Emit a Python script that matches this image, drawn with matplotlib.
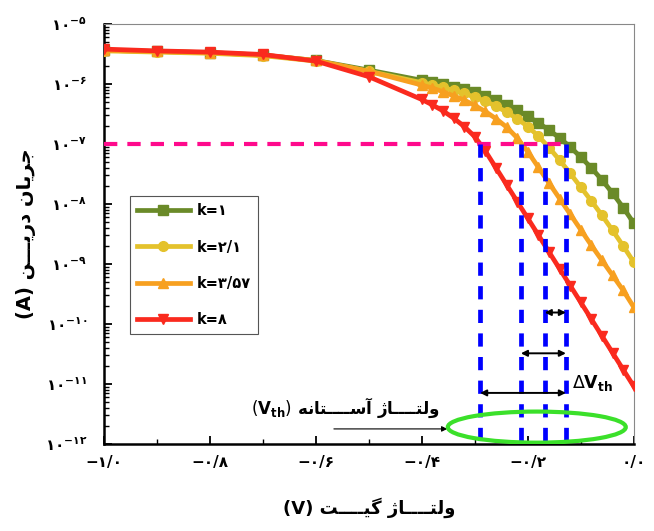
import matplotlib
matplotlib.use('Agg')
import matplotlib.pyplot as plt
from matplotlib.patches import Ellipse
from matplotlib.ticker import FixedLocator, FuncFormatter, LogLocator, MultipleLocator
import numpy as np

plt.rcParams['font.family'] = ['DejaVu Sans']
plt.rcParams['mathtext.fontset'] = 'dejavusans'

#-----------------------------------------------------------------------------
# Data (log10 of drain current)

vg = [-1.0, -0.9, -0.8, -0.7, -0.6, -0.5, -0.4, -0.38, -0.36, -0.34, -0.32, -0.30,
      -0.28, -0.26, -0.24, -0.22, -0.20, -0.18, -0.16, -0.14, -0.12, -0.10,
      -0.08, -0.06, -0.04, -0.02, 0.0]

log_k1 = [-5.44, -5.46, -5.48, -5.52, -5.61, -5.77, -5.94, -5.97, -6.01, -6.05, -6.09, -6.14,
          -6.20, -6.27, -6.35, -6.44, -6.54, -6.65, -6.77, -6.90, -7.05, -7.22,
          -7.40, -7.60, -7.82, -8.06, -8.32]
log_k21 = [-5.45, -5.47, -5.49, -5.53, -5.62, -5.79, -5.98, -6.02, -6.06, -6.11, -6.16, -6.22,
           -6.29, -6.37, -6.47, -6.58, -6.71, -6.87, -7.06, -7.27, -7.49, -7.72,
           -7.95, -8.19, -8.44, -8.70, -8.97]
log_k357 = [-5.44, -5.46, -5.48, -5.52, -5.61, -5.79, -6.02, -6.07, -6.13, -6.20, -6.27, -6.36,
            -6.46, -6.58, -6.72, -6.90, -7.13, -7.39, -7.65, -7.91, -8.17, -8.43,
            -8.69, -8.94, -9.19, -9.44, -9.72]
log_k8 = [-5.42, -5.45, -5.47, -5.51, -5.62, -5.88, -6.26, -6.35, -6.45, -6.57, -6.71, -6.88,
          -7.12, -7.40, -7.68, -7.96, -8.24, -8.52, -8.80, -9.08, -9.36, -9.64,
          -9.92, -10.20, -10.48, -10.76, -11.04]

labels = ['k=۱', 'k=۲/۱', 'k=۳/۵۷', 'k=۸']
colors = ['#6A8A28', '#E4C22C', '#F7A020', '#FA2A1E']
markers = ['s', 'o', '^', 'v']

i_th = 1e-7
vth = [-0.128, -0.168, -0.213, -0.29]   # k=1, 2.1, 3.57, 8

#-----------------------------------------------------------------------------
# Persian text helpers (shaping + visual order)

FORMS = {
    'ا': ('\uFE8D', '\uFE8E', None, None),
    'آ': ('\uFE81', '\uFE82', None, None),
    'ت': ('\uFE95', '\uFE96', '\uFE97', '\uFE98'),
    'ج': ('\uFE9D', '\uFE9E', '\uFE9F', '\uFEA0'),
    'د': ('\uFEA9', '\uFEAA', None, None),
    'ر': ('\uFEAD', '\uFEAE', None, None),
    'ژ': ('\uFB8A', '\uFB8B', None, None),
    'س': ('\uFEB1', '\uFEB2', '\uFEB3', '\uFEB4'),
    'ل': ('\uFEDD', '\uFEDE', '\uFEDF', '\uFEE0'),
    'ن': ('\uFEE5', '\uFEE6', '\uFEE7', '\uFEE8'),
    'ه': ('\uFEE9', '\uFEEA', '\uFEEB', '\uFEEC'),
    'و': ('\uFEED', '\uFEEE', None, None),
    'ی': ('\uFBFC', '\uFBFD', '\uFBFE', '\uFBFF'),
    'گ': ('\uFB92', '\uFB93', '\uFB94', '\uFB95'),
}
TATWEEL = 'ـ'


def joins_next(c):
    return c == TATWEEL or (c in FORMS and FORMS[c][2] is not None)


def joins_prev(c):
    return c == TATWEEL or c in FORMS


def fa(s):
    out = []
    for i, c in enumerate(s):
        if c not in FORMS:
            out.append(c)
            continue
        p = s[i - 1] if i > 0 else ''
        n = s[i + 1] if i + 1 < len(s) else ''
        a = p != '' and joins_next(p)
        b = joins_next(c) and n != '' and joins_prev(n)
        isol, fina, init, medi = FORMS[c]
        out.append(medi if a and b else fina if a else init if b else isol)
    return ''.join(reversed(out))


DIG = str.maketrans('0123456789', '۰۱۲۳۴۵۶۷۸۹')

#-----------------------------------------------------------------------------
# Plot

fig = plt.figure(figsize=(6.54, 5.31), dpi=100)
ax = fig.add_axes([0.159, 0.164, 0.810, 0.791])

for ly, lab, c, m in zip([log_k1, log_k21, log_k357, log_k8], labels, colors, markers):
    ax.plot(vg, 10 ** np.array(ly), color=c, marker=m, markersize=7, lw=3.4,
            markeredgecolor=c, label=lab, zorder=3)

# threshold current line
ax.plot([-1.0, max(vth)], [i_th, i_th], color='#FF0A8C', lw=3, dashes=(3.2, 2.4), zorder=4)

# threshold voltage lines
for v in vth:
    ax.plot([v, v], [i_th, 1e-12], color='#0000FF', lw=3.4, dashes=(2.8, 2.2), zorder=4)

# delta Vth arrows
arr = dict(arrowstyle='<|-|>', color='black', lw=1.4, mutation_scale=9, shrinkA=0, shrinkB=0)
ax.annotate('', xy=(vth[1], 10 ** -9.81), xytext=(vth[0], 10 ** -9.81), arrowprops=arr, zorder=5)
ax.annotate('', xy=(vth[2], 10 ** -10.49), xytext=(vth[0], 10 ** -10.49), arrowprops=arr, zorder=5)
ax.annotate('', xy=(vth[3], 10 ** -11.15), xytext=(vth[0], 10 ** -11.15), arrowprops=arr, zorder=5)
ax.text(-0.117, 10 ** -10.98, r'$\Delta\mathbf{V_{th}}$', fontsize=12.5, ha='left', va='center')

# ellipse + label
ax.add_patch(Ellipse((0.817, 0.040), 0.336, 0.074, transform=ax.transAxes, fill=False,
                     ec='#3BE02A', lw=3, zorder=6))
ax.annotate('', xy=(-0.352, 10 ** -11.75), xytext=(-0.566, 10 ** -11.75),
            arrowprops=dict(arrowstyle='-|>', color='black', lw=0.8, mutation_scale=8,
                            shrinkA=0, shrinkB=0))
ax.text(-0.545, 10 ** -11.40, r'$(\mathbf{V_{th}})$ ' + fa('ولتــــاژ آســــتانه'),
        fontsize=12, fontweight='bold', ha='center', va='center')

ax.set_yscale('log')
ax.set_xlim(-1.0, 0.0)
ax.set_ylim(1e-12, 1e-5)

ax.xaxis.set_major_locator(MultipleLocator(0.2))
ax.xaxis.set_minor_locator(MultipleLocator(0.1))


def xfmt(v, pos):
    s = ('%.1f' % abs(v)).translate(DIG).replace('.', '/')
    return ('−' + s) if v < -1e-9 else s


def yfmt(v, pos):
    e = int(round(np.log10(v)))
    return r'$\mathbf{۱۰^{−%s}}$' % str(-e).translate(DIG)


ax.xaxis.set_major_formatter(FuncFormatter(xfmt))
ax.yaxis.set_major_locator(FixedLocator([10.0 ** e for e in range(-12, -4)]))
ax.yaxis.set_major_formatter(FuncFormatter(yfmt))
ax.yaxis.set_minor_locator(LogLocator(base=10, subs=np.arange(2, 10), numticks=20))

ax.tick_params(which='both', direction='in', top=False, right=False, labelsize=11)
ax.tick_params(which='major', length=6, width=1.3)
ax.tick_params(which='minor', length=3.5, width=1)
ax.tick_params(axis='y', which='major', pad=12)
ax.tick_params(axis='x', which='major', pad=8)
for t in ax.get_xticklabels():
    t.set_fontweight('bold')

ax.spines['left'].set_linewidth(1.8)
ax.spines['bottom'].set_linewidth(1.8)
ax.spines['top'].set_color('#888888')
ax.spines['right'].set_color('#888888')

ax.set_xlabel('(V) ' + fa('ولتــــاژ گیــــت'), fontsize=13, fontweight='bold', labelpad=20)
ax.set_ylabel('(A) ' + fa('جریان دریـــن'), fontsize=14, fontweight='bold', labelpad=6)

leg = ax.legend(loc='upper left', bbox_to_anchor=(0.049, 0.59), borderaxespad=0,
                fancybox=False, edgecolor='#555555', framealpha=1, numpoints=1,
                handlelength=3.6, handletextpad=0.45, labelspacing=1.45, borderpad=0.5,
                prop={'size': 10.5, 'weight': 'bold'})
leg.get_frame().set_linewidth(0.8)

fig.savefig('out.png', dpi=100)
